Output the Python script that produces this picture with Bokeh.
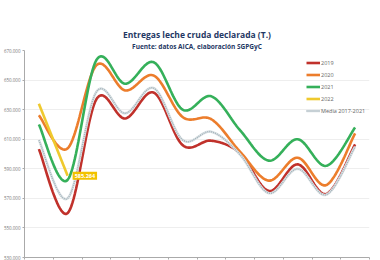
import numpy as np
from bokeh.plotting import figure
from bokeh.models import Range1d, FixedTicker, Legend, LegendItem, Label, Title
from bokeh.embed import file_html
from bokeh.resources import INLINE

# ---- data (thousand tonnes) ----
months = ["Ene", "Feb", "Mar", "Abr", "May", "Jun", "Jul", "Ago", "Sep", "Oct", "Nov", "Dic"]
y2019 = [603.3, 560.0, 637.0, 624.0, 641.5, 606.0, 609.0, 600.5, 575.0, 593.0, 573.0, 606.5]
y2020 = [626.2, 603.8, 660.0, 643.0, 653.0, 625.0, 623.5, 601.5, 582.0, 597.5, 579.0, 614.0]
y2021 = [620.0, 582.5, 663.5, 647.5, 662.0, 630.0, 639.0, 616.0, 595.5, 610.0, 592.0, 618.0]
y2022 = [634.0, 585.264]
media = [609.4, 570.0, 642.0, 627.5, 644.5, 609.5, 615.0, 599.5, 573.5, 590.0, 572.5, 605.0]
yticks = [530, 550, 570, 590, 610, 630, 650, 670]
ytick_labels = ["530.000", "550.000", "570.000", "590.000", "610.000", "630.000", "650.000", "670.000"]
label_2022 = "585.264"

FONT = "Open Sans"


def smooth(ys, n=24):
    """Catmull-Rom style smoothed path through the points (x = month centre)."""
    xs = np.arange(len(ys)) + 0.5
    ys = np.asarray(ys, dtype=float)
    P = np.column_stack([xs, ys])
    if len(P) < 3:
        return list(xs), list(ys)
    out = []
    for i in range(len(P) - 1):
        p0 = P[i - 1] if i > 0 else P[i]
        p1 = P[i]
        p2 = P[i + 1]
        p3 = P[i + 2] if i + 2 < len(P) else P[i + 1]
        c1 = p1 + (p2 - p0) / 6.0
        c2 = p2 - (p3 - p1) / 6.0
        t = np.linspace(0, 1, n, endpoint=(i == len(P) - 2))[:, None]
        seg = ((1 - t) ** 3) * p1 + 3 * ((1 - t) ** 2) * t * c1 + 3 * (1 - t) * t ** 2 * c2 + t ** 3 * p2
        out.append(seg)
    arr = np.vstack(out)
    return list(arr[:, 0]), list(arr[:, 1])


p = figure(width=380, height=260, output_backend="svg", toolbar_location=None,
           x_range=Range1d(0, 12), y_range=Range1d(530, 670),
           min_border_left=21, min_border_right=11, min_border_top=50, min_border_bottom=3)
p.background_fill_color = "white"
p.border_fill_color = "white"
p.outline_line_color = None

# titles
sub = Title(text="Fuente: datos AICA, elaboración SGPGyC", align="center",
            text_font=FONT, text_font_size="6.5px", text_font_style="bold",
            text_color="#1F3864", standoff=0, offset=0)
main = Title(text="Entregas leche cruda declarada (T.)", align="center",
             text_font=FONT, text_font_size="8.5px", text_font_style="bold",
             text_color="#1F3864", standoff=0, offset=0)
p.add_layout(sub, "above")
p.add_layout(main, "above")

# axes
p.yaxis.ticker = FixedTicker(ticks=yticks)
p.yaxis.major_label_overrides = {t: l for t, l in zip(yticks, ytick_labels)}
p.yaxis.major_label_text_font = FONT
p.yaxis.major_label_text_font_size = "4.5px"
p.yaxis.major_label_text_color = "#777777"
p.yaxis.major_label_standoff = 2
p.yaxis.axis_line_color = "#aaaaaa"
p.yaxis.major_tick_line_color = "#aaaaaa"
p.yaxis.major_tick_out = 2
p.yaxis.major_tick_in = 0
p.yaxis.minor_tick_line_color = None

p.xaxis.ticker = FixedTicker(ticks=list(range(13)))
p.xaxis.major_label_overrides = {i: "" for i in range(13)}
p.xaxis.major_label_standoff = 0
p.xaxis.axis_line_color = "#aaaaaa"
p.xaxis.major_tick_line_color = "#aaaaaa"
p.xaxis.major_tick_out = 2
p.xaxis.major_tick_in = 0
p.xaxis.minor_tick_line_color = None

p.xgrid.grid_line_color = None
p.ygrid.ticker = FixedTicker(ticks=yticks)
p.ygrid.grid_line_color = "#eeeeee"

# lines
LW = 2.6
xs, ys = smooth(y2019)
r19 = p.line(xs, ys, line_color="#C0312B", line_width=LW)
xs, ys = smooth(y2020)
r20 = p.line(xs, ys, line_color="#EC7D2C", line_width=LW)
xs, ys = smooth(y2021)
r21 = p.line(xs, ys, line_color="#35B05A", line_width=LW)
xs, ys = smooth(media)
rm0 = p.line(xs, ys, line_color="#DCE3E6", line_width=LW)
rm1 = p.line(xs, ys, line_color="#A3B2B9", line_width=1.5, line_dash="1 1")
xs, ys = smooth(y2022)
r22 = p.line(xs, ys, line_color="#EFC92E", line_width=LW)

lab = Label(x=1.5, y=y2022[-1], text=label_2022, x_offset=5, text_baseline="middle",
            text_font=FONT, text_font_size="5.5px", text_font_style="bold", text_color="white",
            background_fill_color="#F2C200", padding=2)
p.add_layout(lab)

legend = Legend(items=[
    LegendItem(label="2019", renderers=[r19]),
    LegendItem(label="2020", renderers=[r20]),
    LegendItem(label="2021", renderers=[r21]),
    LegendItem(label="2022", renderers=[r22]),
    LegendItem(label="Media 2017-2021", renderers=[rm0, rm1]),
], location=(282, 142), orientation="vertical",
    label_text_font=FONT, label_text_font_size="5.5px", label_text_color="#666666",
    glyph_width=14, glyph_height=9, label_height=9, label_standoff=1, spacing=3,
    padding=0, margin=0, background_fill_alpha=0, border_line_color=None)
p.add_layout(legend)

open("out.html", "w").write(file_html(p, INLINE))
